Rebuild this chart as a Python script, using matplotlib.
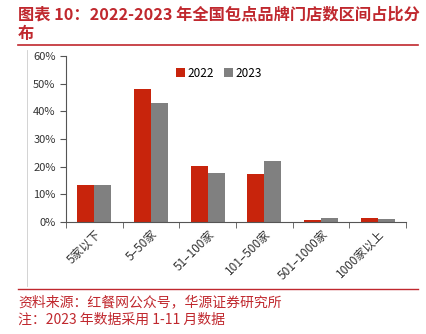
import numpy as np
import matplotlib
matplotlib.use("Agg")
import matplotlib.pyplot as plt
from matplotlib.lines import Line2D
from matplotlib.ticker import PercentFormatter

plt.rcParams['font.family'] = ['Noto Sans CJK SC', 'DejaVu Sans']

categories = ['5家以下', '5–50家', '51–100家', '101–500家', '501–1000家', '1000家以上']
share_2022 = [13.3, 48.2, 20.1, 17.3, 0.7, 1.5]
share_2023 = [13.3, 42.9, 17.6, 21.9, 1.5, 1.0]
series_names = ['2022', '2023']

red = '#C8240C'
grey = '#808080'
title_red = '#C0282E'

fig = plt.figure(figsize=(4.26, 3.34), dpi=100)
ax = fig.add_axes([66 / 426, 1 - 222 / 334, 340 / 426, 166 / 334])

x = np.arange(len(categories))
w = 0.3
ax.bar(x - w / 2, share_2022, w, color=red, label=series_names[0])
ax.bar(x + w / 2, share_2023, w, color=grey, label=series_names[1])

ax.set_xlim(-0.5, len(categories) - 0.5)
ax.set_ylim(0, 60)
ax.set_yticks(np.arange(0, 61, 10))
ax.yaxis.set_major_formatter(PercentFormatter(decimals=0))
ax.set_xticks(x)
ax.set_xticklabels(categories, rotation=45, ha='right', rotation_mode='anchor')
ax.set_xticks(np.arange(-0.5, len(categories)), minor=True)
ax.tick_params(axis='x', which='major', length=0, labelsize=8.5, pad=4, labelcolor='#333333')
ax.tick_params(axis='x', which='minor', length=4, color='#555555')
ax.tick_params(axis='y', length=4, color='#555555', labelsize=8, labelcolor='#333333')

for s in ['top', 'right']:
    ax.spines[s].set_visible(False)
for s in ['left', 'bottom']:
    ax.spines[s].set_color('#555555')
    ax.spines[s].set_linewidth(0.8)

ax.legend(loc='upper center', bbox_to_anchor=(0.45, 1.0), ncol=2, frameon=False,
          fontsize=8.5, handlelength=0.8, handleheight=0.8, handletextpad=0.2,
          columnspacing=0.8)

# title block and footer
fig.text(18 / 426, 1 - 14 / 334, '图表 10：2022-2023 年全国包点品牌门店数区间占比分',
         color=title_red, fontsize=11.7, fontweight='bold', va='center')
fig.text(18 / 426, 1 - 34 / 334, '布', color=title_red, fontsize=11.7,
         fontweight='bold', va='center')
fig.add_artist(Line2D([18 / 426, 418 / 426], [1 - 45 / 334, 1 - 45 / 334],
                      color=title_red, lw=1.2))
fig.add_artist(Line2D([18 / 426, 418 / 426], [1 - 289 / 334, 1 - 289 / 334],
                      color=title_red, lw=1.0))
fig.add_artist(Line2D([27 / 426, 27 / 426], [1 - 286 / 334, 1 - 50 / 334],
                      color='#cccccc', lw=0.6))
fig.text(18 / 426, 1 - 302 / 334, '资料来源：红餐网公众号，华源证券研究所',
         color=title_red, fontsize=10, va='center')
fig.text(18 / 426, 1 - 320 / 334, '注：2023 年数据采用 1-11 月数据',
         color=title_red, fontsize=10, va='center')

fig.savefig('out.png', dpi=100)
